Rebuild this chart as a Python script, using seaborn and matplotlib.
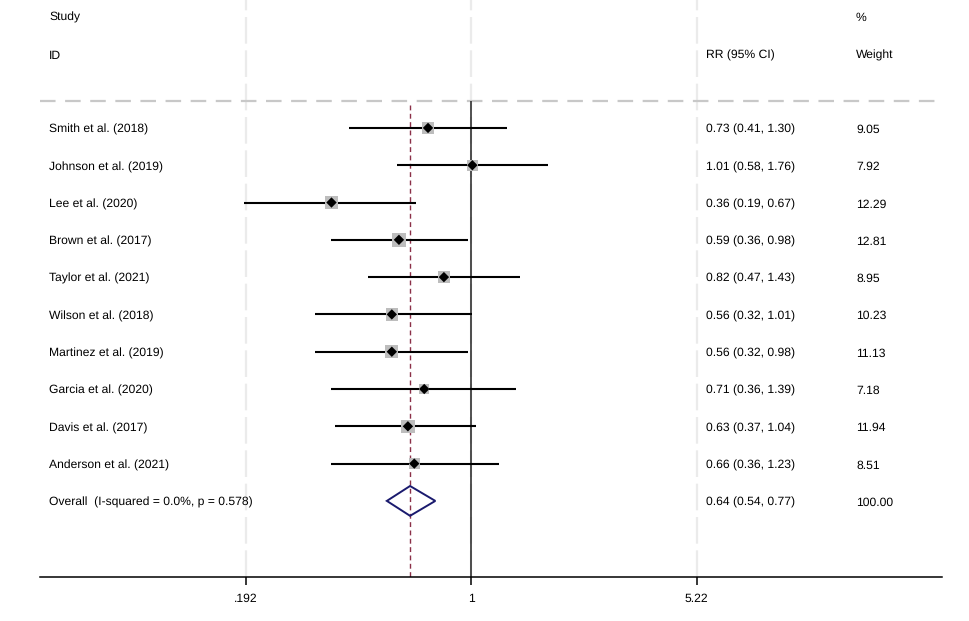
import numpy as np
import pandas as pd
import matplotlib
matplotlib.use("Agg")
import matplotlib.pyplot as plt
import matplotlib.transforms as mtransforms
import seaborn as sns

studies = ["Smith et al. (2018)", "Johnson et al. (2019)", "Lee et al. (2020)",
           "Brown et al. (2017)", "Taylor et al. (2021)", "Wilson et al. (2018)",
           "Martinez et al. (2019)", "Garcia et al. (2020)", "Davis et al. (2017)",
           "Anderson et al. (2021)"]
rr = [0.73, 1.01, 0.36, 0.59, 0.82, 0.56, 0.56, 0.71, 0.63, 0.66]
ci_low = [0.41, 0.58, 0.19, 0.36, 0.47, 0.32, 0.32, 0.36, 0.37, 0.36]
ci_high = [1.30, 1.76, 0.67, 0.98, 1.43, 1.01, 0.98, 1.39, 1.04, 1.23]
weight = [9.05, 7.92, 12.29, 12.81, 8.95, 10.23, 11.13, 7.18, 11.94, 8.51]

overall_label = "Overall  (I-squared = 0.0%, p = 0.578)"
overall_rr = 0.64
overall_low = 0.54
overall_high = 0.77
overall_weight = 100.00

x_ticks = [0.192, 1, 5.22]
x_ticklabels = [".192", "1", "5.22"]

sns.set_style("white")
plt.rcParams['font.family'] = ['Liberation Sans', 'DejaVu Sans']
plt.rcParams['text.color'] = 'black'
plt.rcParams['xtick.color'] = 'black'
plt.rcParams['text.hinting'] = 'no_hinting'

df = pd.DataFrame({"study": studies, "rr": rr, "lo": ci_low, "hi": ci_high,
                   "weight": weight})
df["row"] = np.arange(len(df))
overall_row = len(df)

fig = plt.figure(figsize=(9.69, 6.21), dpi=100)
ax = fig.add_axes([40 / 969, 1 - 577 / 621, 902 / 969, 577 / 621])
ax.set_xscale("log")
ax.set_xlim(0.04259, 31.47)
ax.set_ylim(12.04, -3.43)

# grid lines at ticks
for t in x_ticks:
    ax.axvline(t, color="#ebebeb", lw=1.6, ls=(0, (12, 3)), zorder=0)

# header separator
ax.axhline(-0.72, color="#c8c8c8", lw=1.6, ls=(0, (7, 4.3)), zorder=1)

# null line and overall line
ax.vlines(1, -0.72, 12.04, color="#222222", lw=1.1, zorder=2)
ax.vlines(overall_rr, -0.62, 12.04, color="#8b3048", lw=1.0,
          ls=(0, (3.5, 2.5)), zorder=2)

# confidence intervals
ax.hlines(df["row"], df["lo"], df["hi"], color="black", lw=1.5, zorder=3)

# weight boxes
sns.scatterplot(data=df, x="rr", y="row", size="weight",
                sizes=(8 * min(weight), 8 * max(weight)),
                size_norm=(min(weight), max(weight)), marker="s", color="#bdbdbd",
                edgecolor="none", legend=False, ax=ax, zorder=4)
sns.scatterplot(data=df, x="rr", y="row", marker="D", color="black", s=28,
                edgecolor="none", legend=False, ax=ax, zorder=5)

# overall diamond
ax.fill([overall_low, overall_rr, overall_high, overall_rr],
        [overall_row, overall_row - 0.4, overall_row, overall_row + 0.4],
        facecolor="none", edgecolor="#1a1a6e", lw=1.4, zorder=5)

# text columns
tr = mtransforms.blended_transform_factory(ax.transAxes, ax.transData)
fs = 8.7
dy = 0.13
col_study, col_rr, col_w = 0.01, 0.738, 0.9047


def label(x, y, s):
    ax.text(x, y + dy, s, transform=tr, fontsize=fs, va="baseline")


label(col_study, -3.0, "Study")
label(col_study, -1.98, "ID")
label(col_rr, -1.98, "RR (95% CI)")
label(col_w, -3.0, "%")
label(col_w, -1.98, "Weight")

for _, r in df.iterrows():
    label(col_study, r["row"], r["study"])
    label(col_rr, r["row"], f"{r['rr']:.2f} ({r['lo']:.2f}, {r['hi']:.2f})")
    label(col_w, r["row"], f"{r['weight']:.2f}")

label(col_study, overall_row, overall_label)
label(col_rr, overall_row, f"{overall_rr:.2f} ({overall_low:.2f}, {overall_high:.2f})")
label(col_w, overall_row, f"{overall_weight:.2f}")

# axes styling
for s in ["top", "left", "right"]:
    ax.spines[s].set_visible(False)
ax.spines["bottom"].set_color("black")
ax.spines["bottom"].set_linewidth(1.1)
ax.set_xticks(x_ticks)
ax.set_xticklabels(x_ticklabels, fontsize=fs)
ax.minorticks_off()
ax.tick_params(axis="x", direction="out", length=6, width=1.1, color="black", bottom=True, pad=6)
ax.set_yticks([])
ax.set_xlabel("")
ax.set_ylabel("")
ax.patch.set_alpha(0)

fig.savefig("out.png", dpi=100, facecolor="white")
